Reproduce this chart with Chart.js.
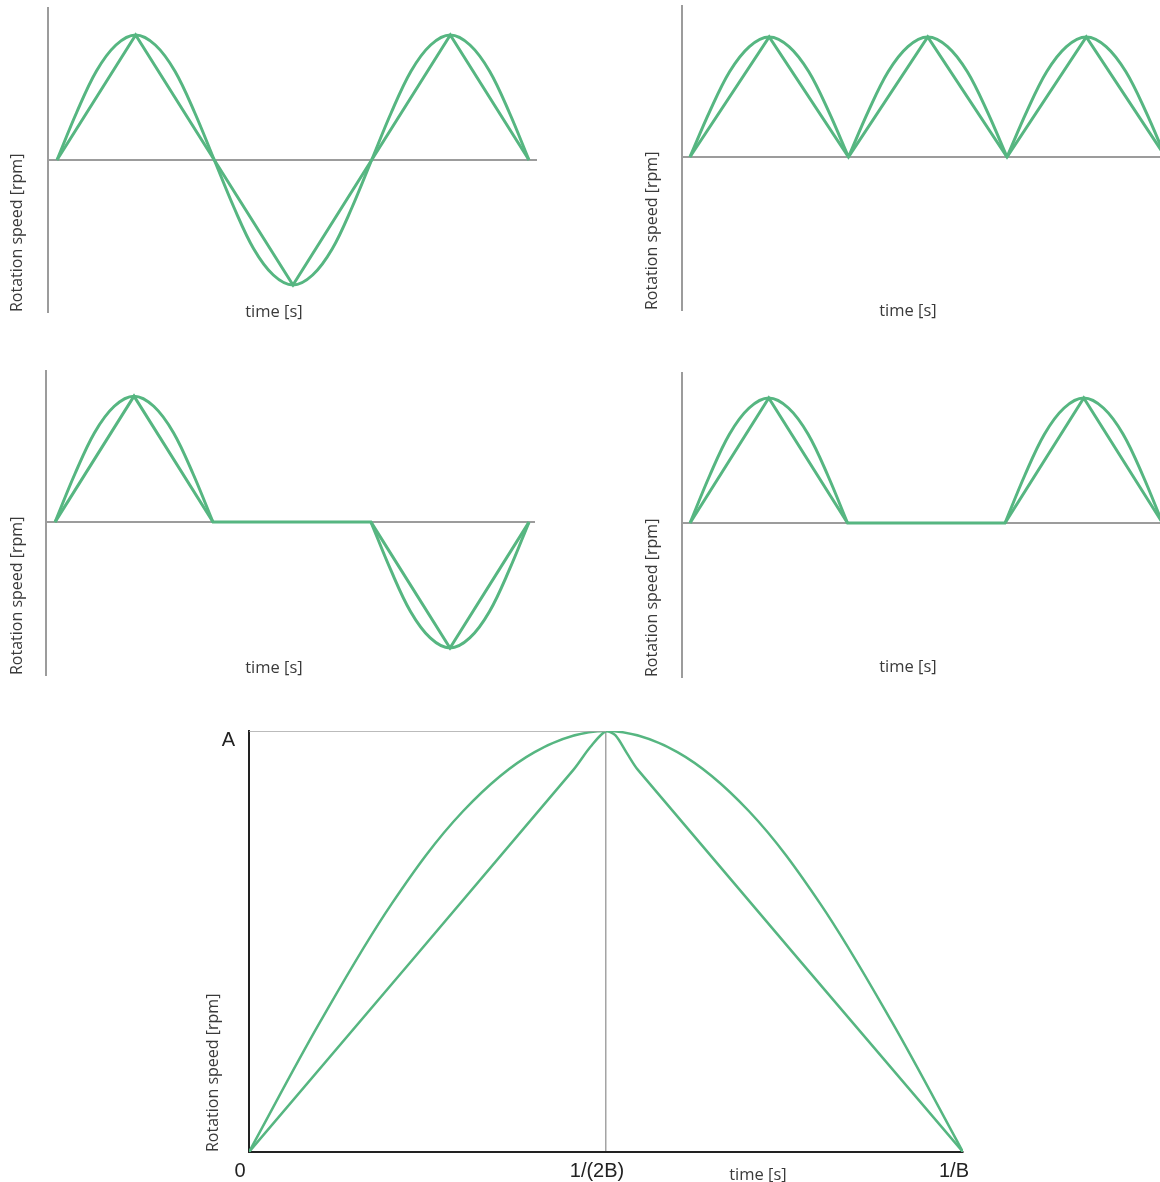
<!DOCTYPE html>
<html>
<head>
<meta charset="utf-8">
<title>Rotation speed patterns</title>
<script src="https://cdn.jsdelivr.net/npm/chart.js@4.4.1/dist/chart.umd.min.js"></script>
<style>
  html, body { margin: 0; padding: 0; background: #fff; }
  #page { position: relative; width: 1160px; height: 1182px; overflow: hidden; }
  #page canvas { position: absolute; }
</style>
</head>
<body>
<div id="page">
  <canvas id="p1" width="560" height="330" style="left:0;top:0"></canvas>
  <canvas id="p2" width="524" height="330" style="left:636px;top:0"></canvas>
  <canvas id="p3" width="560" height="330" style="left:0;top:360px"></canvas>
  <canvas id="p4" width="524" height="330" style="left:636px;top:360px"></canvas>
  <canvas id="p5" width="800" height="482" style="left:190px;top:700px"></canvas>
</div>
<script>
// time in half periods, speed relative to peak
// panel 1: sine + triangle, reversing
const p1SineT = [0, 0.125, 0.25, 0.375, 0.5, 0.625, 0.75, 0.875, 1, 1.125, 1.25, 1.375, 1.5, 1.625, 1.75, 1.875, 2, 2.125, 2.25, 2.375, 2.5, 2.625, 2.75, 2.875, 3];
const p1SineV = [0, 0.38, 0.71, 0.92, 1, 0.92, 0.71, 0.38, 0, -0.38, -0.71, -0.92, -1, -0.92, -0.71, -0.38, 0, 0.38, 0.71, 0.92, 1, 0.92, 0.71, 0.38, 0];
const p1TriT = [0, 0.5, 1, 1.5, 2, 2.5, 3];
const p1TriV = [0, 1, 0, -1, 0, 1, 0];

// panel 2: rectified, one direction
const p2SineT = [0, 0.125, 0.25, 0.375, 0.5, 0.625, 0.75, 0.875, 1, 1, 1, 1.125, 1.25, 1.375, 1.5, 1.625, 1.75, 1.875, 2, 2, 2, 2.125, 2.25, 2.375, 2.5, 2.625, 2.75, 2.875, 3];
const p2SineV = [0, 0.38, 0.71, 0.92, 1, 0.92, 0.71, 0.38, 0, null, 0, 0.38, 0.71, 0.92, 1, 0.92, 0.71, 0.38, 0, null, 0, 0.38, 0.71, 0.92, 1, 0.92, 0.71, 0.38, 0];
const p2TriT = [0, 0.5, 1, 1.5, 2, 2.5, 3];
const p2TriV = [0, 1, 0, 1, 0, 1, 0];

// panel 3: forward, pause, reverse
const p3SineT = [0, 0.125, 0.25, 0.375, 0.5, 0.625, 0.75, 0.875, 1, 1.5, 2, 2.125, 2.25, 2.375, 2.5, 2.625, 2.75, 2.875, 3];
const p3SineV = [0, 0.38, 0.71, 0.92, 1, 0.92, 0.71, 0.38, 0, null, 0, -0.38, -0.71, -0.92, -1, -0.92, -0.71, -0.38, 0];
const p3TriT = [0, 0.5, 1, 2, 2.5, 3];
const p3TriV = [0, 1, 0, 0, -1, 0];

// panel 4: forward, pause, forward
const p4SineT = [0, 0.125, 0.25, 0.375, 0.5, 0.625, 0.75, 0.875, 1, 1.5, 2, 2.125, 2.25, 2.375, 2.5, 2.625, 2.75, 2.875, 3];
const p4SineV = [0, 0.38, 0.71, 0.92, 1, 0.92, 0.71, 0.38, 0, null, 0, 0.38, 0.71, 0.92, 1, 0.92, 0.71, 0.38, 0];
const p4TriT = [0, 0.5, 1, 2, 2.5, 3];
const p4TriV = [0, 1, 0, 0, 1, 0];

// big panel: one half period, time in 1/B, speed in A
const bigSineT = [0, 0.1, 0.2, 0.3, 0.4, 0.5, 0.6, 0.7, 0.8, 0.9, 1];
const bigSineV = [0, 0.31, 0.59, 0.81, 0.95, 1, 0.95, 0.81, 0.59, 0.31, 0];
const bigTriT = [0, 0.454, 0.478, 0.5, 0.513, 0.529, 0.545, 1];
const bigTriV = [0, 0.907, 0.962, 1, 0.99, 0.948, 0.907, 0];
const refT = [0, 0.5];
const refV = [1, 1];
const xTickValues = [0, 0.5, 1];
const xTickLabels = ['0', '1/(2B)', '1/B'];
const yTickValues = [1];
const yTickLabels = ['A'];

const GREEN = '#56b681';
const AXIS_GREY = '#9c9c9c';
const TEXT = '#3a3a3a';
Chart.defaults.font.family = "'Open Sans', sans-serif";

function zip(ts, vs) {
    return ts.map((t, i) => ({ x: t, y: vs[i] }));
}

const timeLabel = {
    id: 'timeLabel',
    afterDraw(chart, args, opts) {
        const { ctx, chartArea } = chart;
        ctx.save();
        ctx.font = "16.5px 'Open Sans', sans-serif";
        ctx.fillStyle = TEXT;
        ctx.textAlign = 'center';
        ctx.textBaseline = 'middle';
        ctx.fillText('time [s]', chartArea.left + opts.dx, chartArea.bottom + opts.dy);
        ctx.restore();
    }
};

const yTitle = {
    display: true,
    text: 'Rotation speed [rpm]',
    align: 'start',
    color: TEXT,
    font: { size: 16 },
    padding: { top: 3, bottom: 0 }
};

function smallPanel(id, sineT, sineV, triT, triV, xRange, yRange, pad, yWidth, label) {
    return new Chart(document.getElementById(id), {
        type: 'line',
        data: {
            datasets: [
                { data: zip(sineT, sineV), borderColor: GREEN, borderWidth: 3, tension: 0.35, pointRadius: 0, spanGaps: false },
                { data: zip(triT, triV), borderColor: GREEN, borderWidth: 3, tension: 0, pointRadius: 0 },
            ],
        },
        options: {
            responsive: false,
            animation: false,
            events: [],
            layout: { padding: pad },
            plugins: {
                legend: { display: false },
                tooltip: { enabled: false },
                timeLabel: label,
            },
            scales: {
                x: { type: 'linear', min: xRange[0], max: xRange[1], display: false },
                y: {
                    min: yRange[0],
                    max: yRange[1],
                    afterBuildTicks: s => { s.ticks = [{ value: 0 }]; },
                    afterFit: s => { s.width = yWidth; },
                    ticks: { display: false },
                    grid: { color: AXIS_GREY, lineWidth: 2, drawTicks: false },
                    border: { color: AXIS_GREY, width: 2 },
                    title: yTitle,
                },
            },
        },
        plugins: [timeLabel],
    });
}

smallPanel('p1', p1SineT, p1SineV, p1TriT, p1TriV, [-0.057, 3.051], [-1.216, 1.216],
    { left: 5, top: 8, right: 23, bottom: 18 }, 43, { dx: 226, dy: 0 });
smallPanel('p2', p2SineT, p2SineV, p2TriT, p2TriV, [-0.05, 2.965], [-1.275, 1.258],
    { left: 4, top: 6, right: 0, bottom: 20 }, 42, { dx: 226, dy: 1 });
smallPanel('p3', p3SineT, p3SineV, p3TriT, p3TriV, [-0.057, 3.038], [-1.214, 1.2],
    { left: 5, top: 11, right: 25, bottom: 15 }, 41, { dx: 228, dy: -7 });
smallPanel('p4', p4SineT, p4SineV, p4TriT, p4TriV, [-0.051, 2.984], [-1.232, 1.2],
    { left: 4, top: 13, right: 0, bottom: 13 }, 42, { dx: 226, dy: -10 });

new Chart(document.getElementById('p5'), {
    type: 'line',
    data: {
        datasets: [
            { data: zip(refT, refV), borderColor: '#a4a4a4', borderWidth: 1.5, pointRadius: 0 },
            { data: zip(bigSineT, bigSineV), borderColor: GREEN, borderWidth: 2.5, tension: 0.35, pointRadius: 0 },
            { data: zip(bigTriT, bigTriV), borderColor: GREEN, borderWidth: 2.5, tension: 0.3, pointRadius: 0 },
        ],
    },
    options: {
        responsive: false,
        animation: false,
        events: [],
        layout: { padding: { left: 11, top: 31, right: 27, bottom: 0 } },
        plugins: {
            legend: { display: false },
            tooltip: { enabled: false },
            timeLabel: { dx: 509, dy: 23 },
        },
        scales: {
            x: {
                type: 'linear',
                min: 0,
                max: 1,
                afterBuildTicks: s => { s.ticks = xTickValues.map(v => ({ value: v })); },
                afterFit: s => { s.height = 30; s.paddingLeft = 0; s.paddingRight = 0; },
                ticks: {
                    callback: (v, i) => xTickLabels[i],
                    autoSkip: false,
                    maxRotation: 0,
                    labelOffset: -9,
                    padding: 7,
                    color: '#222',
                    font: { family: "'Liberation Sans', Arial, sans-serif", size: 20 },
                },
                grid: {
                    color: c => (c.tick && c.tick.value === 0.5 ? '#a4a4a4' : 'rgba(0,0,0,0)'),
                    lineWidth: 1.5,
                    drawTicks: false,
                },
                border: { color: '#222', width: 2 },
            },
            y: {
                min: 0,
                max: 1,
                afterBuildTicks: s => { s.ticks = yTickValues.map(v => ({ value: v })); },
                afterFit: s => { s.width = 48; s.paddingTop = 0; s.paddingBottom = 0; },
                ticks: {
                    callback: (v, i) => yTickLabels[i],
                    labelOffset: 9,
                    padding: 14,
                    color: '#222',
                    font: { family: "'Liberation Sans', Arial, sans-serif", size: 20 },
                },
                grid: { display: false, drawTicks: false },
                border: { color: '#222', width: 2 },
                title: yTitle,
            },
        },
    },
    plugins: [timeLabel],
});
</script>
</body>
</html>
